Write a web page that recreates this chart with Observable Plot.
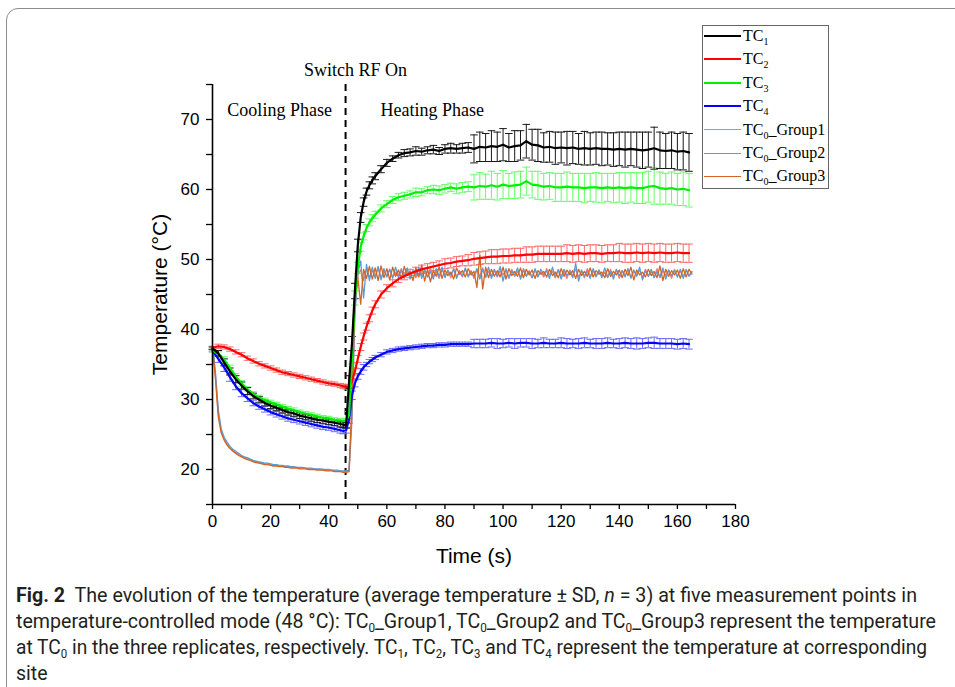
<!DOCTYPE html>
<html><head><meta charset="utf-8">
<script src="https://cdn.jsdelivr.net/npm/d3@7"></script>
<script src="https://cdn.jsdelivr.net/npm/@observablehq/plot@0.6"></script>
<style>
html,body{margin:0;padding:0;background:#fff;}
body{width:955px;height:687px;overflow:hidden;position:relative;}
#frame{position:absolute;left:6px;top:8px;width:1100px;height:800px;border:1.5px solid #8c8c8c;border-radius:12px;box-sizing:border-box;}
#chart{position:absolute;left:0;top:0;}
#legend{position:absolute;left:702px;top:25px;width:127px;height:164px;border:1px solid #666;box-sizing:border-box;background:#fff;font-family:"Liberation Serif","Times New Roman",serif;font-size:16px;color:#000;}
.row{position:absolute;left:0;height:20px;display:flex;align-items:center;white-space:nowrap;}
.sw{width:37px;margin-left:1px;margin-right:2px;}
#legend sub{font-size:10px;vertical-align:-4px;line-height:0;}
#caption{position:absolute;left:16px;top:582px;font-family:"Roboto","Liberation Sans",sans-serif;font-size:20px;line-height:26px;color:#231f20;}
#caption .ln{white-space:nowrap;transform-origin:0 50%;display:block;width:max-content;}
#caption sub{font-size:12px;vertical-align:-4px;line-height:0;}
</style></head>
<body>
<div id="frame"></div>
<div id="chart"></div>
<div id="legend"></div>
<div id="caption">
<span class="ln" data-w="901"><b>Fig. 2</b>&nbsp; The evolution of the temperature (average temperature ± SD, <i>n</i> = 3) at five measurement points in</span>
<span class="ln" data-w="920">temperature-controlled mode (48 °C): TC<sub>0</sub>_Group1, TC<sub>0</sub>_Group2 and TC<sub>0</sub>_Group3 represent the temperature</span>
<span class="ln" data-w="911">at TC<sub>0</sub> in the three replicates, respectively. TC<sub>1</sub>, TC<sub>2</sub>, TC<sub>3</sub> and TC<sub>4</sub> represent the temperature at corresponding</span>
<span class="ln" data-w="0">site</span>
</div>
<script>
// ---- data ----
const time = [0,2,4,6,8,10,12,14,16,18,20,22,24,26,28,30,32,34,36,38,40,42,44,
  45,46,47,48,49,50,51,52,53,54,55,56,
  58,60,62,64,66,68,70,72,74,76,78,80,82,84,86,88,90,92,94,96,98,100,102,104,106,108,110,112,114,116,118,120,122,124,126,128,130,132,134,136,138,140,142,144,146,148,150,152,154,156,158,160,162,164];

const tc1 = [37.3,36.6,35.3,34.0,32.9,32.0,31.2,30.5,30.0,29.5,29.1,28.8,28.5,28.2,28.0,27.7,27.5,27.3,27.1,27.0,26.8,26.7,26.5,
  26.4,26.3,32.5,38.0,45.5,52.0,56.0,58.2,59.7,60.6,61.3,61.9,
  62.9,63.8,64.4,64.9,65.2,65.3,65.5,65.4,65.6,65.7,65.5,65.8,65.9,65.8,65.9,66.0,65.8,66.1,66.0,66.2,66.1,66.4,66.0,66.2,66.3,66.9,66.4,66.3,66.0,66.1,65.9,66.0,65.9,66.0,65.8,65.9,65.8,65.9,65.8,65.8,65.7,65.8,65.7,65.8,65.7,65.6,65.7,65.9,65.6,65.5,65.6,65.4,65.5,65.3];
const tc1Sd = [0.2,0.4,0.5,0.5,0.5,0.5,0.5,0.4,0.4,0.4,0.4,0.4,0.4,0.4,0.4,0.4,0.4,0.4,0.4,0.4,0.4,0.4,0.4,
  0.4,0.4,0.9,1.0,1.1,0.9,0.7,0.6,0.5,0.5,0.5,0.5,
  0.5,0.5,0.4,0.4,0.5,0.5,0.6,0.5,0.5,0.6,0.5,0.6,0.7,0.6,0.7,0.7,
  2.0,2.1,2.0,2.2,2.1,2.3,2.0,2.2,2.1,2.4,2.2,2.3,2.1,2.2,2.3,2.2,2.4,2.3,2.2,2.4,2.3,2.3,2.4,2.3,2.4,2.4,2.5,2.4,2.5,2.6,2.5,3.0,2.6,2.5,2.6,2.6,2.7,2.7];

const tc2 = [37.4,37.6,37.5,37.2,36.8,36.4,35.9,35.5,35.1,34.8,34.5,34.2,33.9,33.7,33.5,33.3,33.1,32.9,32.7,32.5,32.3,32.2,32.0,
  31.9,31.8,31.8,32.6,34.0,35.8,37.5,39.0,40.4,41.6,42.7,43.6,
  45.0,45.9,46.6,47.2,47.6,48.0,48.3,48.6,48.8,49.0,49.2,49.4,49.5,49.7,49.8,49.9,50.1,50.2,50.3,50.4,50.4,50.5,50.5,50.6,50.6,50.7,50.7,50.8,50.8,50.8,50.8,50.8,50.9,50.8,50.9,50.8,50.9,50.9,50.8,50.9,50.9,51.0,50.9,50.9,51.0,50.9,51.0,50.9,51.0,50.9,50.9,51.0,50.9,50.9];
const tc2Sd = [0.2,0.3,0.3,0.3,0.3,0.3,0.3,0.3,0.3,0.3,0.3,0.3,0.3,0.3,0.3,0.3,0.3,0.3,0.3,0.3,0.3,0.3,0.3,
  0.3,0.3,0.3,0.4,0.5,0.5,0.5,0.5,0.5,0.5,0.5,0.5,
  0.5,0.5,0.5,0.5,0.5,0.6,0.6,0.6,0.6,0.6,0.6,0.7,0.7,0.7,0.7,0.8,
  0.9,0.9,0.9,1.0,1.0,1.0,1.0,1.0,1.0,1.1,1.1,1.1,1.1,1.1,1.1,1.1,1.2,1.2,1.2,1.2,1.2,1.2,1.2,1.2,1.2,1.3,1.3,1.3,1.3,1.3,1.3,1.3,1.3,1.3,1.3,1.3,1.3,1.3];

const tc3 = [37.0,36.5,35.7,34.5,33.3,32.3,31.5,30.8,30.3,29.9,29.6,29.3,29.0,28.7,28.5,28.2,28.0,27.8,27.6,27.4,27.3,27.1,27.0,
  26.9,27.0,27.8,36.0,44.5,48.8,51.8,53.3,54.5,55.3,55.9,56.4,
  57.3,57.9,58.5,58.9,59.1,59.3,59.6,59.6,59.9,60.0,59.9,60.1,60.3,60.1,60.3,60.4,60.3,60.5,60.4,60.6,60.4,60.7,60.5,60.6,60.7,61.2,60.7,60.6,60.4,60.5,60.3,60.3,60.4,60.3,60.3,60.2,60.3,60.3,60.2,60.3,60.2,60.3,60.2,60.3,60.2,60.2,60.4,60.5,60.2,60.1,60.2,60.0,60.1,59.9];
const tc3Sd = [0.2,0.3,0.4,0.4,0.4,0.4,0.3,0.3,0.3,0.3,0.3,0.3,0.3,0.3,0.3,0.3,0.3,0.3,0.3,0.3,0.3,0.3,0.3,
  0.3,0.3,0.5,0.9,1.0,0.8,0.6,0.5,0.5,0.5,0.5,0.5,
  0.5,0.5,0.5,0.5,0.5,0.5,0.6,0.5,0.5,0.6,0.6,0.6,0.6,0.7,0.7,0.7,
  1.8,1.9,1.8,2.0,1.9,2.0,1.8,1.9,1.9,2.0,1.9,2.0,1.9,1.9,2.0,2.0,2.1,2.0,2.0,2.1,2.0,2.1,2.1,2.0,2.1,2.1,2.2,2.1,2.2,2.2,2.2,2.6,2.3,2.2,2.3,2.3,2.4,2.4];

const tc4 = [37.0,35.8,34.6,33.2,31.9,30.9,30.2,29.5,29.0,28.6,28.2,27.9,27.6,27.3,27.1,26.9,26.7,26.5,26.3,26.1,26.0,25.8,25.6,
  25.5,25.6,27.2,30.6,32.3,33.3,34.0,34.6,35.0,35.4,35.7,36.0,
  36.4,36.8,37.0,37.2,37.3,37.4,37.5,37.6,37.7,37.7,37.8,37.8,37.9,37.9,37.9,37.9,38.0,38.0,38.0,38.1,38.0,38.0,38.1,38.0,38.1,38.1,38.0,38.0,38.1,38.0,38.0,38.1,38.0,38.0,38.0,38.1,38.0,38.0,38.0,38.1,38.0,38.0,38.1,38.0,38.0,38.0,38.1,38.1,38.0,38.0,38.0,37.9,38.0,37.9];
const tc4Sd = [0.2,0.5,0.6,0.6,0.5,0.5,0.5,0.4,0.4,0.4,0.4,0.4,0.4,0.4,0.4,0.4,0.4,0.4,0.4,0.4,0.4,0.4,0.4,
  0.4,0.4,0.6,0.6,0.5,0.4,0.4,0.4,0.3,0.3,0.3,0.3,
  0.3,0.3,0.3,0.3,0.3,0.3,0.3,0.3,0.3,0.3,0.3,0.3,0.3,0.3,0.3,0.3,
  0.6,0.6,0.6,0.6,0.7,0.6,0.6,0.7,0.6,0.6,0.7,0.6,0.7,0.6,0.6,0.7,0.7,0.6,0.7,0.7,0.6,0.7,0.7,0.7,0.6,0.7,0.7,0.7,0.8,0.7,0.7,0.8,0.7,0.7,0.7,0.7,0.7,0.7];

// TC0 replicates, one reading per second, 0 … 165 s
const tc0Time = d3.range(0, 166);
const tc0Group1 = [37.6,33.5,28.0,25.5,24.4,23.7,23.2,22.8,22.4,22.1,21.9,21.7,21.5,21.4,21.2,21.1,21.0,20.9,20.8,20.8,20.7,20.6,20.6,20.5,20.5,20.4,20.4,20.3,20.3,20.3,20.2,20.2,20.2,20.1,20.1,20.1,20.0,20.0,20.0,19.9,19.9,19.9,19.8,19.8,19.8,19.7,19.7,19.8,27.0,43.0,
  47.8,48.5,47.0,48.7,47.5,48.4,47.6,48.8,47.4,48.3,47.7,48.6,47.5,48.2,47.8,48.7,47.3,48.5,47.6,48.4,47.4,48.6,47.7,48.3,47.5,48.8,47.6,48.4,47.3,48.5,47.8,48.3,47.4,48.7,47.6,48.2,47.5,48.6,47.7,48.4,47.3,48.5,47.6,48.8,47.4,48.3,47.7,48.6,47.5,48.4,47.8,48.5,47.3,48.6,47.6,48.3,47.5,48.7,47.7,48.4,47.4,48.5,47.6,48.2,47.5,48.7,47.8,48.3,47.4,48.6,47.6,48.4,47.3,48.5,47.7,48.6,47.5,48.3,47.4,48.7,47.6,48.4,47.5,48.5,47.7,48.2,47.4,48.6,47.6,48.5,47.3,48.4,47.7,48.6,47.5,48.3,47.8,48.5,47.4,48.6,47.6,48.3,47.5,48.7,47.4,48.4,47.7,48.5,47.3,48.6,47.6,48.4,47.5,48.6,47.7,48.3];
const tc0Group2 = [37.7,34.0,28.5,25.8,24.6,23.9,23.3,22.9,22.6,22.3,22.0,21.8,21.7,21.5,21.3,21.2,21.1,21.0,20.9,20.9,20.8,20.7,20.7,20.6,20.6,20.5,20.5,20.4,20.4,20.3,20.3,20.3,20.2,20.2,20.2,20.1,20.1,20.1,20.0,20.0,20.0,19.9,19.9,19.9,19.8,19.8,19.8,19.9,28.0,42.0,
  48.0,49.8,44.5,49.3,47.0,48.9,47.3,49.0,47.1,48.7,47.5,48.6,47.3,48.9,47.4,48.5,47.6,48.8,47.2,48.4,47.7,48.9,47.3,48.6,47.5,48.3,47.2,48.7,47.6,48.9,47.4,48.5,47.8,48.6,47.3,48.4,47.7,48.8,47.5,48.3,47.6,48.7,47.2,48.6,47.5,48.9,47.3,48.5,47.6,49.0,46.9,48.7,47.4,48.4,47.7,48.8,47.2,48.5,47.6,48.3,47.4,48.7,47.5,48.6,47.8,48.4,47.3,48.9,47.5,48.5,47.2,48.6,47.7,48.3,47.4,49.4,46.9,48.5,47.6,48.4,47.3,48.7,47.6,48.5,47.4,48.8,47.5,48.3,47.2,48.6,47.7,48.4,47.5,48.7,47.3,48.5,47.6,48.9,47.1,48.4,47.6,48.6,47.4,48.3,47.5,48.8,47.2,48.5,47.7,48.4,47.5,48.6,47.3,48.5,47.6,48.2];
const tc0Group3 = [37.5,33.0,27.5,25.2,24.2,23.5,23.0,22.6,22.3,22.0,21.8,21.6,21.4,21.3,21.1,21.0,20.9,20.8,20.7,20.7,20.6,20.5,20.5,20.4,20.4,20.3,20.3,20.2,20.2,20.2,20.1,20.1,20.1,20.0,20.0,20.0,19.9,19.9,19.9,19.8,19.8,19.8,19.7,19.7,19.7,19.6,19.6,19.7,30.0,44.0,
  47.5,43.6,48.6,47.3,49.0,47.2,48.8,47.0,49.1,47.4,48.7,47.1,48.9,47.6,48.5,47.2,49.0,47.8,48.3,47.0,48.8,47.5,49.2,46.9,48.6,46.8,48.4,47.6,48.9,47.3,48.5,47.7,48.2,47.2,48.8,47.9,48.4,47.5,48.7,47.8,48.3,46.0,50.6,45.8,48.9,47.4,48.6,47.6,48.4,47.5,48.9,47.2,48.7,47.7,48.3,47.6,48.8,47.4,48.6,47.8,48.5,47.3,48.4,47.9,48.3,47.5,48.6,47.7,48.2,47.4,48.7,47.6,48.5,47.8,48.4,47.3,48.6,47.7,48.3,47.6,48.8,47.5,48.4,47.9,48.2,47.4,48.7,47.6,48.3,47.8,48.5,47.4,48.6,47.7,48.9,47.1,48.5,47.8,48.2,47.5,48.6,47.7,48.3,47.4,49.1,47.0,48.6,47.6,48.4,47.8,48.5,47.3,48.7,47.5,48.6,47.9];

const switchTime = 45.8;
const xTicks = d3.range(0, 181, 10);
const yTicks = d3.range(15, 76, 5);
const seriesNames = ["TC1","TC2","TC3","TC4","TC0_Group1","TC0_Group2","TC0_Group3"];
const annotations = ["Switch RF On","Cooling Phase","Heating Phase"];

// ---- build tables ----
const tcSeries = [
  {name:"TC1", v:tc1, sd:tc1Sd, color:"#000000", bar:"#1a1a1a"},
  {name:"TC2", v:tc2, sd:tc2Sd, color:"#ff0000", bar:"#ff6a6a"},
  {name:"TC3", v:tc3, sd:tc3Sd, color:"#00ee00", bar:"#66ff66"},
  {name:"TC4", v:tc4, sd:tc4Sd, color:"#0000ff", bar:"#6a6aff"}
];
const tcRows = tcSeries.flatMap(s => time.map((t,i) => ({series:s.name, t, v:s.v[i], lo:s.v[i]-s.sd[i], hi:s.v[i]+s.sd[i]})));
const tc0Series = [
  {name:"TC0_Group1", v:tc0Group1, color:"#f47a7a"},
  {name:"TC0_Group2", v:tc0Group2, color:"#5b9bd5"},
  {name:"TC0_Group3", v:tc0Group3, color:"#d2651f"}
];
const tc0Rows = tc0Series.flatMap(s => tc0Time.map((t,i) => ({series:s.name, t, v:s.v[i]})));

const cap = {draw(ctx, size){ const r = Math.sqrt(size/Math.PI); ctx.moveTo(-r,0); ctx.lineTo(r,0); }};

const drawOrder = ["TC4","TC2","TC3","TC1"];
const barMarks = drawOrder.flatMap(n => {
  const s = tcSeries.find(d => d.name === n);
  const f = d => d.series === n;
  return [
    Plot.ruleX(tcRows, {filter:f, x:"t", y1:"lo", y2:"hi", stroke:s.bar, strokeWidth:1}),
    Plot.dot(tcRows, {filter:f, x:"t", y:"lo", symbol:cap, r:3.8, stroke:s.bar, strokeWidth:1, fill:"none"}),
    Plot.dot(tcRows, {filter:f, x:"t", y:"hi", symbol:cap, r:3.8, stroke:s.bar, strokeWidth:1, fill:"none"})
  ];
});
const tc0Marks = tc0Series.map(s => Plot.line(tc0Rows, {filter:d => d.series === s.name, x:"t", y:"v", stroke:s.color, strokeWidth:1.3}));
const lineMarks = drawOrder.map(n => {
  const s = tcSeries.find(d => d.name === n);
  return Plot.line(tcRows, {filter:d => d.series === n, x:"t", y:"v", stroke:s.color, strokeWidth:2.2});
});

const chart = Plot.plot({
  width: 955, height: 560,
  marginLeft: 212, marginRight: 220, marginTop: 84, marginBottom: 56,
  x: {domain:[0,180]},
  y: {domain:[15,75]},
  style: {fontFamily:"'Liberation Sans', Arial, sans-serif", fontSize:"17px", color:"#000", background:"transparent", overflow:"visible"},
  marks: [
    Plot.ruleX([switchTime], {stroke:"#000", strokeWidth:2, strokeDasharray:"7,5"}),
    ...barMarks,
    ...tc0Marks,
    ...lineMarks,
    Plot.axisX({ticks:xTicks, tickFormat:d => d % 20 === 0 ? d : "", tickSize:5, tickPadding:5, label:null, strokeWidth:1.3}),
    Plot.axisY({ticks:yTicks, tickFormat:d => d % 10 === 0 ? d : "", tickSize:6, tickPadding:7, label:null, strokeWidth:1.3}),
    Plot.ruleY([15], {stroke:"#000", strokeWidth:1.6}),
    Plot.ruleX([0], {stroke:"#000", strokeWidth:1.6}),
    Plot.text(["Time (s)"], {frameAnchor:"bottom", dy:52, lineAnchor:"middle", textAnchor:"middle", fontSize:21}),
    Plot.text(["Temperature (°C)"], {frameAnchor:"left", dx:-52, rotate:-90, lineAnchor:"middle", textAnchor:"middle", fontSize:21}),
    Plot.text([annotations[0]], {x:49.2, y:77.1, fontSize:18, fontFamily:"'Liberation Serif','Times New Roman',serif"}),
    Plot.text([annotations[1]], {x:23.1, y:71.3, fontSize:18, fontFamily:"'Liberation Serif','Times New Roman',serif"}),
    Plot.text([annotations[2]], {x:75.6, y:71.3, fontSize:18, fontFamily:"'Liberation Serif','Times New Roman',serif"})
  ]
});
document.getElementById("chart").appendChild(chart);

// ---- legend ----
const legendColors = ["#000000","#ff0000","#00ee00","#0000ff","#f47a7a","#5b9bd5","#d2651f"];
const legendWidths = [2.6,2.6,2.6,2.6,1.6,1.6,1.6];
const lg = document.getElementById("legend");
seriesNames.forEach((name, i) => {
  const row = document.createElement("div");
  row.className = "row";
  row.style.top = (0 + i*23.4) + "px";
  const sw = document.createElement("div");
  sw.className = "sw";
  sw.style.borderTop = legendWidths[i] + "px solid " + legendColors[i];
  const lab = document.createElement("span");
  const m = name.match(/^TC(\d)(.*)$/);
  lab.innerHTML = "TC<sub>" + m[1] + "</sub>" + m[2];
  row.appendChild(sw); row.appendChild(lab);
  lg.appendChild(row);
});

// ---- caption: fit line widths ----
const lines = [...document.querySelectorAll("#caption .ln")];
let scales = [];
lines.forEach(el => {
  const w = +el.dataset.w;
  if (w) { const s = w / el.getBoundingClientRect().width; scales.push(s); el.style.transform = `scaleX(${s})`; }
});
const avg = scales.reduce((a,b)=>a+b,0)/scales.length;
lines.forEach(el => { if (!+el.dataset.w) el.style.transform = `scaleX(${avg})`; });
</script>
</body></html>
